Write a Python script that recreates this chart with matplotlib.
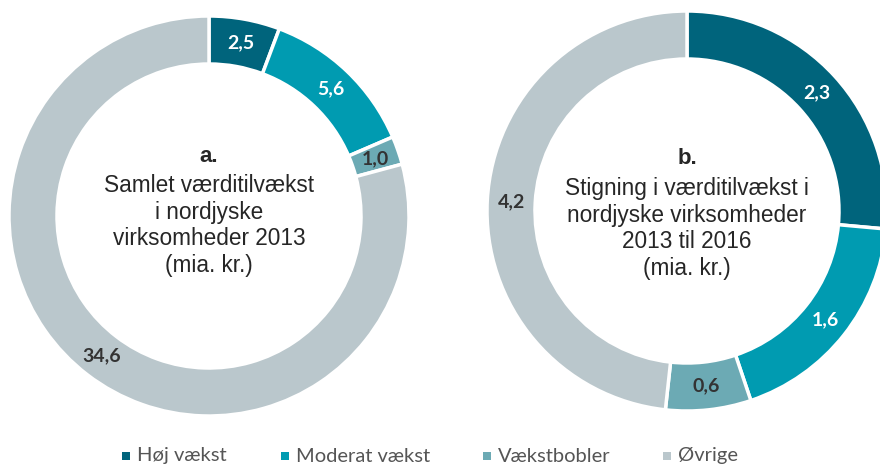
import numpy as np
import matplotlib.pyplot as plt
from matplotlib.patches import Rectangle

categories = ['Høj vækst', 'Moderat vækst', 'Vækstbobler', 'Øvrige']
values_a = [2.5, 5.6, 1.0, 34.6]
values_b = [2.3, 1.6, 0.6, 4.2]
labels_a = ['2,5', '5,6', '1,0', '34,6']
labels_b = ['2,3', '1,6', '0,6', '4,2']
colors = ['#00647c', '#009bb1', '#6caab4', '#bac7cc']
label_colors = ['white', 'white', '#333333', '#333333']

title_a = 'Samlet værditilvækst\ni nordjyske\nvirksomheder 2013\n(mia. kr.)'
title_b = 'Stigning i værditilvækst i\nnordjyske virksomheder\n2013 til 2016\n(mia. kr.)'

H = 466
fig = plt.figure(figsize=(8.8, 4.66), dpi=100)
ax = fig.add_axes([0, 0, 1, 1])

R = 200
W = 48


def donut(cx, cy, vals, labs, letter, title, letter_y, title_y):
    cy = H - cy
    wedges, _ = ax.pie(vals, colors=colors, startangle=90, counterclock=False,
                       center=(cx, cy), radius=R,
                       wedgeprops=dict(width=W, edgecolor='white', linewidth=2.5))
    for w, lab, lc in zip(wedges, labs, label_colors):
        ang = np.deg2rad((w.theta1 + w.theta2) / 2)
        r = R - W / 2
        ax.text(cx + r * np.cos(ang), cy + r * np.sin(ang), lab,
                ha='center', va='center', color=lc,
                fontsize=14, fontweight='bold', family='Lato')
    ax.text(cx, H - letter_y, letter, ha='center', va='center', fontsize=16,
            fontweight='bold', color='#262626', family='Liberation Sans')
    ax.text(cx, H - title_y, title, ha='center', va='top', fontsize=16.3,
            color='#262626', family='Liberation Sans', linespacing=1.2)


donut(209, 216, values_a, labels_a, 'a.', title_a, 156, 174)
donut(687, 211, values_b, labels_b, 'b.', title_b, 158, 177)

# legend row
leg_x = [126, 285, 487, 667]
for x, c, name in zip(leg_x, colors, categories):
    ax.add_patch(Rectangle((x - 4, H - 460), 8, 8, facecolor=c, edgecolor='none'))
    ax.text(x + 11, H - 456, name, ha='left', va='center', fontsize=14.5,
            color='#555555', family='Lato')

ax.set_xlim(0, 880)
ax.set_ylim(0, H)
ax.set_aspect('equal')
ax.axis('off')

fig.savefig('out.png', dpi=100)
